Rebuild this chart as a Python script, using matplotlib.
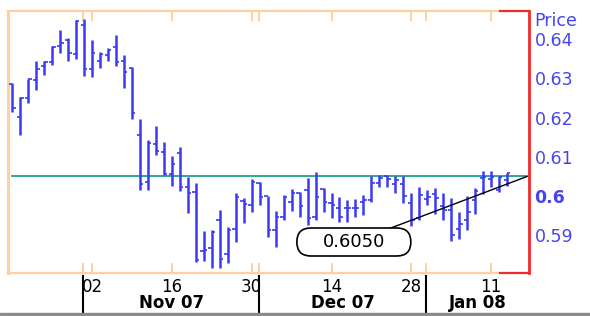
import matplotlib
matplotlib.use("Agg")
import matplotlib.pyplot as plt
import numpy as np
import pandas as pd
from matplotlib.patches import FancyBboxPatch, Rectangle
from matplotlib.transforms import ScaledTranslation, blended_transform_factory

plt.rcParams['font.family'] = ['DejaVu Sans']

# ---------------- data ----------------
dates = pd.bdate_range('2007-10-19', '2008-01-15')
opens = [0.6285, 0.6201, 0.6250, 0.6296, 0.6331, 0.6341, 0.6381, 0.6397, 0.6362, 0.6435,
         0.6324, 0.6345, 0.6359, 0.6379, 0.6345, 0.6325, 0.6156, 0.6037, 0.6133, 0.6112,
         0.6057, 0.6109, 0.6023, 0.6011, 0.5860, 0.5867, 0.5938, 0.5853, 0.5916, 0.5988,
         0.5977, 0.6033, 0.6000, 0.5914, 0.5948, 0.5986, 0.6007, 0.6016, 0.5948, 0.6017,
         0.5983, 0.5969, 0.5969, 0.5969, 0.5986, 0.5989, 0.6033, 0.6050, 0.6030, 0.6030,
         0.5982, 0.5944, 0.5993, 0.6005, 0.5975, 0.5965, 0.5916, 0.5939, 0.5990, 0.6045,
         0.6043, 0.6016, 0.6041]
highs = [0.6289, 0.6252, 0.6299, 0.6343, 0.6345, 0.6383, 0.6422, 0.6403, 0.6448, 0.6452,
         0.6397, 0.6368, 0.6376, 0.6411, 0.6360, 0.6329, 0.6196, 0.6144, 0.6179, 0.6138,
         0.6102, 0.6125, 0.6049, 0.6033, 0.5911, 0.5914, 0.5965, 0.5922, 0.6007, 0.5995,
         0.6043, 0.6037, 0.6001, 0.5962, 0.6003, 0.6017, 0.6011, 0.6045, 0.6062, 0.6020,
         0.6009, 0.5999, 0.5990, 0.5992, 0.6003, 0.6051, 0.6055, 0.6054, 0.6051, 0.6050,
         0.6007, 0.6023, 0.6015, 0.6020, 0.6007, 0.5995, 0.5960, 0.6000, 0.6020, 0.6065,
         0.6065, 0.6050, 0.6060]
lows = [0.6213, 0.6156, 0.6236, 0.6271, 0.6308, 0.6334, 0.6365, 0.6345, 0.6350, 0.6306,
        0.6303, 0.6326, 0.6345, 0.6332, 0.6274, 0.6196, 0.6015, 0.6015, 0.6105, 0.6053,
        0.6025, 0.6013, 0.5958, 0.5833, 0.5835, 0.5816, 0.5816, 0.5829, 0.5884, 0.5931,
        0.5960, 0.5977, 0.5897, 0.5870, 0.5939, 0.5963, 0.5948, 0.5927, 0.5939, 0.5960,
        0.5944, 0.5935, 0.5935, 0.5948, 0.5952, 0.5984, 0.6022, 0.6023, 0.6009, 0.5983,
        0.5923, 0.5938, 0.5977, 0.5955, 0.5939, 0.5887, 0.5892, 0.5915, 0.5955, 0.6005,
        0.6024, 0.6011, 0.6027]
closes = [0.6223, 0.6250, 0.6297, 0.6323, 0.6341, 0.6380, 0.6390, 0.6363, 0.6446, 0.6323,
          0.6363, 0.6361, 0.6372, 0.6342, 0.6316, 0.6212, 0.6031, 0.6136, 0.6114, 0.6056,
          0.6083, 0.6022, 0.6008, 0.5837, 0.5863, 0.5910, 0.5840, 0.5914, 0.5997, 0.5980,
          0.6037, 0.5999, 0.5914, 0.5948, 0.5999, 0.6007, 0.5974, 0.5944, 0.5999, 0.5986,
          0.5977, 0.5948, 0.5969, 0.5970, 0.5990, 0.6033, 0.6046, 0.6044, 0.6040, 0.6000,
          0.5939, 0.6003, 0.5999, 0.5995, 0.5965, 0.5901, 0.5928, 0.5960, 0.6014, 0.6048,
          0.6048, 0.6048, 0.6058]

level_value = 0.605
level_label = '0.6050'
day_tick_dates = ['2007-11-02', '2007-11-16', '2007-11-30', '2007-12-14', '2007-12-28', '2008-01-11']
day_tick_labels = ['02', '16', '30', '14', '28', '11']
month_start_dates = ['2007-11-01', '2007-12-03', '2008-01-01']
month_labels = ['Nov 07', 'Dec 07', 'Jan 08']
y_ticks = [0.59, 0.60, 0.61, 0.62, 0.63, 0.64]
y_tick_labels = ['0.59', '0.6', '0.61', '0.62', '0.63', '0.64']

# ---------------- style ----------------
BAR = '#3a3af5'
PEACH = '#ffcf9e'
RED = '#f22a2a'
TEAL = '#1f9e8e'
BLUE_TXT = '#4545f0'

fig = plt.figure(figsize=(5.90, 3.16), dpi=100)
ax = fig.add_axes([8/590, 1-273/316, (529-8)/590, (273-11)/316])

x = np.arange(len(dates))
o = np.array(opens); h = np.array(highs); l = np.array(lows); c = np.array(closes)
tw = 0.42
ax.vlines(x, l, h, color=BAR, lw=1.8, zorder=3)
ax.hlines(o, x - tw, x, color=BAR, lw=1.2, zorder=3)
ax.hlines(c, x, x + tw, color=BAR, lw=1.2, zorder=3)

x_left, x_right = -0.54, 64.75
ax.set_xlim(x_left, x_right)
ax.set_ylim(0.58044, 0.64711)

# horizontal level line
x_end = x_right - 0.25
ax.plot([x[0], x_end], [level_value, level_value], color=TEAL, lw=1.3, zorder=2)

# callout label
lab_x, lab_y = 42.8, 0.58833
ax.plot([lab_x, x_end], [lab_y, level_value], color='black', lw=1.0, zorder=4)
box_tr = fig.dpi_scale_trans + ScaledTranslation(lab_x, lab_y, ax.transData)
box = FancyBboxPatch((-0.57, -0.14), 1.14, 0.28,
                     boxstyle='round,pad=0,rounding_size=0.14',
                     transform=box_tr, fc='white', ec='black', lw=1.2, zorder=5)
ax.add_patch(box)
ax.text(lab_x, lab_y, level_label, ha='center', va='center', fontsize=13,
        color='black', zorder=6)

# spines
for s in ax.spines.values():
    s.set_visible(False)
split = (500 - 8) / 521
tr_axes = ax.transAxes
ax.plot([0, 0], [0, 1], color=PEACH, lw=2.2, transform=tr_axes, clip_on=False, zorder=1)
ax.plot([0, split], [1, 1], color=PEACH, lw=1.6, transform=tr_axes, clip_on=False, zorder=1)
ax.plot([0, split], [0, 0], color=PEACH, lw=1.6, transform=tr_axes, clip_on=False, zorder=1)
ax.plot([split, 1], [1, 1], color=RED, lw=1.6, transform=tr_axes, clip_on=False, zorder=1)
ax.plot([split, 1], [0, 0], color=RED, lw=1.6, transform=tr_axes, clip_on=False, zorder=1)
ax.plot([1, 1], [0, 1], color=RED, lw=2.0, transform=tr_axes, clip_on=False, zorder=1)

# x ticks
day_pos = [dates.get_loc(pd.Timestamp(d)) for d in day_tick_dates]
month_pos = [dates.get_loc(pd.Timestamp(d)) - 0.1 for d in month_start_dates]
ax.set_xticks(day_pos)
ax.set_xticks(month_pos, minor=True)
ax.tick_params(axis='x', which='both', direction='in', length=7, width=1.4,
               color=PEACH, top=True, bottom=True, labelbottom=False)

bx = blended_transform_factory(ax.transData, ax.transAxes)
for p, t in zip(day_pos, day_tick_labels):
    ax.text(p, -0.052, t, transform=bx, ha='center', va='center', fontsize=12,
            color='black', clip_on=False)
bounds = month_pos + [x_right]
for i, t in enumerate(month_labels):
    ax.text((bounds[i] + bounds[i+1]) / 2, -0.116, t, transform=bx, ha='center',
            va='center', fontsize=12, fontweight='bold', color='black', clip_on=False)
for p in month_pos:
    ax.plot([p, p], [-0.012, -0.153], transform=bx, color='black', lw=1.5, clip_on=False)

# y ticks on right
ax.yaxis.tick_right()
ax.set_yticks(y_ticks)
ax.set_yticklabels(y_tick_labels)
ax.tick_params(axis='y', length=0, pad=4, labelsize=12.5, labelcolor=BLUE_TXT)
for lbl, t in zip(ax.get_yticklabels(), y_tick_labels):
    if t == '0.6':
        lbl.set_fontweight('bold')
ax.text(1.0096, (273 - 20.5) / 262, 'Price', transform=ax.transAxes, ha='left',
        va='center', fontsize=12.5, color=BLUE_TXT, clip_on=False)

# grey strip at bottom
fig.patches.append(Rectangle((0, 0), 1, 3/316, transform=fig.transFigure,
                             color='#8a8a8a', zorder=0))

fig.savefig('out.png', dpi=100)
